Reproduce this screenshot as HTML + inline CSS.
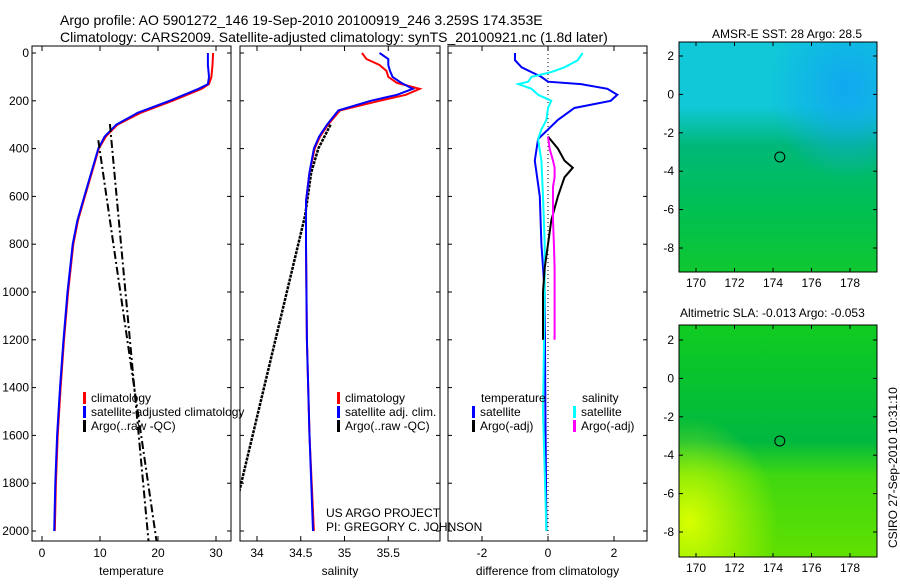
<!DOCTYPE html>
<html><head><meta charset="utf-8"><style>
body{margin:0;background:#fff;}
svg{font-family:"Liberation Sans",sans-serif;}
text{font-size:12px;fill:#000;}
</style></head><body>
<svg id="s" width="900" height="580" xmlns="http://www.w3.org/2000/svg">
<defs>
<radialGradient id="g1a" cx="0.85" cy="0.2" r="0.4"><stop offset="0" stop-color="#10a8f0"/><stop offset="1" stop-color="#10a8f0" stop-opacity="0"/></radialGradient>
<linearGradient id="g1" x1="0" y1="0" x2="0" y2="1"><stop offset="0" stop-color="#10c8d8"/><stop offset="0.28" stop-color="#10c8d8"/><stop offset="0.45" stop-color="#00b878"/><stop offset="0.75" stop-color="#00c050"/><stop offset="1" stop-color="#10c830"/></linearGradient>
<linearGradient id="g2" x1="0" y1="0" x2="0" y2="1"><stop offset="0" stop-color="#10cc20"/><stop offset="0.5" stop-color="#00b840"/><stop offset="0.65" stop-color="#40d810"/><stop offset="1" stop-color="#60e000"/></linearGradient>
<radialGradient id="g2y" cx="0.05" cy="0.85" r="0.45"><stop offset="0" stop-color="#d8ff00"/><stop offset="1" stop-color="#d8ff00" stop-opacity="0"/></radialGradient>
<clipPath id="c1"><rect x="32" y="46" width="199" height="495"/></clipPath>
<clipPath id="c2"><rect x="240" y="46" width="200" height="495"/></clipPath>
<clipPath id="c3"><rect x="448" y="46" width="199" height="495"/></clipPath>
</defs>
<text x="60" y="25" style="font-size:14px">Argo profile: AO 5901272_146 19-Sep-2010 20100919_246 3.259S 174.353E</text>
<text x="60" y="42" style="font-size:14px">Climatology: CARS2009. Satellite-adjusted climatology: synTS_20100921.nc (1.8d later)</text>
<g id="plots"></g>
<text x="712" y="38" style="font-size:12px">AMSR-E SST: 28 Argo: 28.5</text>
<text x="680" y="317" style="font-size:12px">Altimetric SLA: -0.013 Argo: -0.053</text>
<text transform="translate(897,548) rotate(-90)" style="font-size:12px">CSIRO 27-Sep-2010 10:31:10</text>
</svg>
<script>
const depths=[0,50,100,130,150,175,200,250,300,350,400,500,600,700,800,1000,1200,1400,1600,1800,2000];
const climT=[29.5,29.4,29.2,28.8,27.5,25,22.5,17,13,11,9.8,8.6,7.4,6.2,5.4,4.5,3.8,3.2,2.7,2.4,2.2];
const satT=[28.6,28.6,28.8,28.6,27,24.5,22,16.5,12.8,10.8,9.7,8.5,7.3,6.1,5.3,4.4,3.7,3.1,2.6,2.3,2.1];
const argoTdepth1=[365,2050];const argoT1=[9.7,19.8];
const argoTdepth2=[297,2050];const argoT2=[11.7,18.4];
const sDepth=[0,25,50,75,100,125,150,175,200,240,300,350,400,500,620,800,1200,1600,2000];
const climS=[35.2,35.25,35.4,35.48,35.5,35.6,35.86,35.7,35.4,34.95,34.81,34.72,34.66,34.6,34.56,34.56,34.57,34.6,34.65];
const satS=[35.4,35.5,35.5,35.52,35.55,35.65,35.78,35.6,35.3,34.93,34.8,34.71,34.65,34.6,34.56,34.56,34.57,34.6,34.64];
const argoSdepth=[300,400,500,680,1830,2050];const argoS=[34.84,34.7,34.62,34.55,33.8,33.73];
const diffDepth=[0,30,60,80,100,120,130,150,175,200,230,280,320,360,450,600,800,1000,1500,2000];
const diffTsat=[-1.0,-1.0,-0.8,-0.5,-0.2,0,1.0,1.8,2.1,1.9,0.8,0.3,0,-0.3,-0.4,-0.25,-0.2,-0.1,-0.08,-0.05];
const diffSsat=[1.05,0.9,0.5,0.1,-0.5,-0.6,-0.9,-0.5,-0.3,0.1,0,-0.05,-0.2,-0.3,-0.2,-0.15,-0.1,-0.1,-0.15,-0.05];
const argoDiffDepth=[350,400,450,480,520,560,600,700,800,900,1000,1200];
const argoDiffT=[0,0.3,0.5,0.75,0.5,0.4,0.3,0.1,0,-0.1,-0.15,-0.15];
const argoDiffS=[0,0.05,0.15,0.2,0.2,0.15,0.15,0.15,0.18,0.2,0.2,0.2];
const depthTicks=[0,200,400,600,800,1000,1200,1400,1600,1800,2000];
const tTicks=[0,10,20,30];const sTicks=[34,34.5,35,35.5];const dTicks=[-2,0,2];
const lonTicks=[170,172,174,176,178];const latTicks=[2,0,-2,-4,-6,-8];
const argoLon=174.353, argoLat=-3.259;

const NS='http://www.w3.org/2000/svg';const G=document.getElementById('plots');
function el(t,a,p){const e=document.createElementNS(NS,t);for(const k in a)e.setAttribute(k,a[k]);(p||G).appendChild(e);return e;}
const Y=d=>53+d*0.239;
const xT=v=>42+v*5.8, xS=v=>257+(v-34)*87.5, xD=v=>548+v*33;
function line(xs,ds,fx,col,w,dash,clip,name){const pts=xs.map((v,i)=>fx(v).toFixed(1)+','+Y(ds[i]).toFixed(1)).join(' ');
 const e=el('polyline',{points:pts,fill:'none',stroke:col,'stroke-width':w,'clip-path':'url(#'+clip+')'});if(dash)e.setAttribute('stroke-dasharray',dash);
 
 }
function frame(x0,w,ticks,fx,name,label,depthLabels){
 const r=el('rect',{x:x0,y:46,width:w,height:495,fill:'none',stroke:'#000'});
 
 
 ticks.forEach(t=>{const x=fx(t);el('line',{x1:x,y1:541,x2:x,y2:536,stroke:'#000'});el('line',{x1:x,y1:46,x2:x,y2:51,stroke:'#000'});
  const tx=el('text',{x:x,y:557,'text-anchor':'middle'});tx.textContent=t;
  
  });
 depthTicks.forEach(d=>{el('line',{x1:x0,y1:Y(d),x2:x0+4,y2:Y(d),stroke:'#000'});el('line',{x1:x0+w,y1:Y(d),x2:x0+w-4,y2:Y(d),stroke:'#000'});
  if(depthLabels){const tx=el('text',{x:x0-3,y:Y(d)+4,'text-anchor':'end'});tx.textContent=d;
  
  }});
 const lb=el('text',{x:x0+w/2,y:575,'text-anchor':'middle'});lb.textContent=label;
 
 }
frame(32,199,tTicks,xT,'temperature-panel','temperature',true);
frame(240,200,sTicks,xS,'salinity-panel','salinity',false);
frame(448,199,dTicks,xD,'difference-panel','difference from climatology',false);
const z=el('line',{x1:xD(0),y1:46,x2:xD(0),y2:541,stroke:'#000','stroke-dasharray':'1,3'});


line(climT,depths,xT,'#f00',2,null,'c1','temp-climatology');
line(satT,depths,xT,'#00f',2,null,'c1','temp-satellite');
line(argoT1,argoTdepth1,xT,'#000',2,'8,3,2,3','c1','temp-argo-1');
line(argoT2,argoTdepth2,xT,'#000',2,'8,3,2,3','c1','temp-argo-2');
line(argoS,argoSdepth,xS,'#000',2.5,'3,1','c2','sal-argo');
line(climS,sDepth,xS,'#f00',2,null,'c2','sal-climatology');
line(satS,sDepth,xS,'#00f',2,null,'c2','sal-satellite');
line(diffTsat,diffDepth,xD,'#00f',2,null,'c3','diff-temp-satellite');
line(diffSsat,diffDepth,xD,'#0ff',2,null,'c3','diff-sal-satellite');
line(argoDiffT,argoDiffDepth,xD,'#000',2,null,'c3','diff-temp-argo');
line(argoDiffS,argoDiffDepth,xD,'#f0f',2,null,'c3','diff-sal-argo');
function leg(x,y,col,txt,name){const r=el('rect',{x:x,y:y-10,width:3,height:12,fill:col});
 
 
 const t=el('text',{x:x+8,y:y});t.textContent=txt;
 
 }
leg(83,402,'#f00','climatology','legend-temp-clim');leg(83,416,'#00f','satellite-adjusted climatology','legend-temp-sat');leg(83,430,'#000','Argo(..raw -QC)','legend-temp-argo');
leg(337,402,'#f00','climatology','legend-sal-clim');leg(337,416,'#00f','satellite adj. clim.','legend-sal-sat');leg(337,430,'#000','Argo(..raw -QC)','legend-sal-argo');
let t0=el('text',{x:481,y:402});t0.textContent='temperature';
let t1=el('text',{x:582,y:402});t1.textContent='salinity';
leg(472,416,'#00f','satellite','legend-diff-temp-sat');leg(472,430,'#000','Argo(-adj)','legend-diff-temp-argo');
leg(573,416,'#0ff','satellite','legend-diff-sal-sat');leg(573,430,'#f0f','Argo(-adj)','legend-diff-sal-argo');
let p1=el('text',{x:326,y:517});p1.textContent='US ARGO PROJECT';
let p2=el('text',{x:326,y:531});p2.textContent='PI: GREGORY C. JOHNSON';
function map(y0,h,lat2y,fill,over,name){
 const lx=v=>696+(v-170)*19.25, ly=v=>lat2y+(2-v)*19.2;
 let r=el('rect',{x:679,y:y0,width:198,height:h,fill:fill});
 let o=el('rect',{x:679,y:y0,width:198,height:h,fill:over});
 let f=el('rect',{x:679,y:y0,width:198,height:h,fill:'none',stroke:'#000'});
 lonTicks.forEach(v=>{el('line',{x1:lx(v),y1:y0+h,x2:lx(v),y2:y0+h-4,stroke:'#000'});el('line',{x1:lx(v),y1:y0,x2:lx(v),y2:y0+4,stroke:'#000'});
  const t=el('text',{x:lx(v),y:y0+h+15,'text-anchor':'middle'});t.textContent=v;});
 latTicks.forEach(v=>{el('line',{x1:679,y1:ly(v),x2:683,y2:ly(v),stroke:'#000'});el('line',{x1:877,y1:ly(v),x2:873,y2:ly(v),stroke:'#000'});
  const t=el('text',{x:674,y:ly(v)+4,'text-anchor':'end'});t.textContent=v;});
 const c=el('circle',{cx:lx(argoLon),cy:ly(argoLat),r:5,fill:'none',stroke:'#000'});
 
 }
map(42,230,56,'url(#g1)','url(#g1a)','sst-map');
map(325,232,340,'url(#g2)','url(#g2y)','sla-map');
</script>
</body></html>
